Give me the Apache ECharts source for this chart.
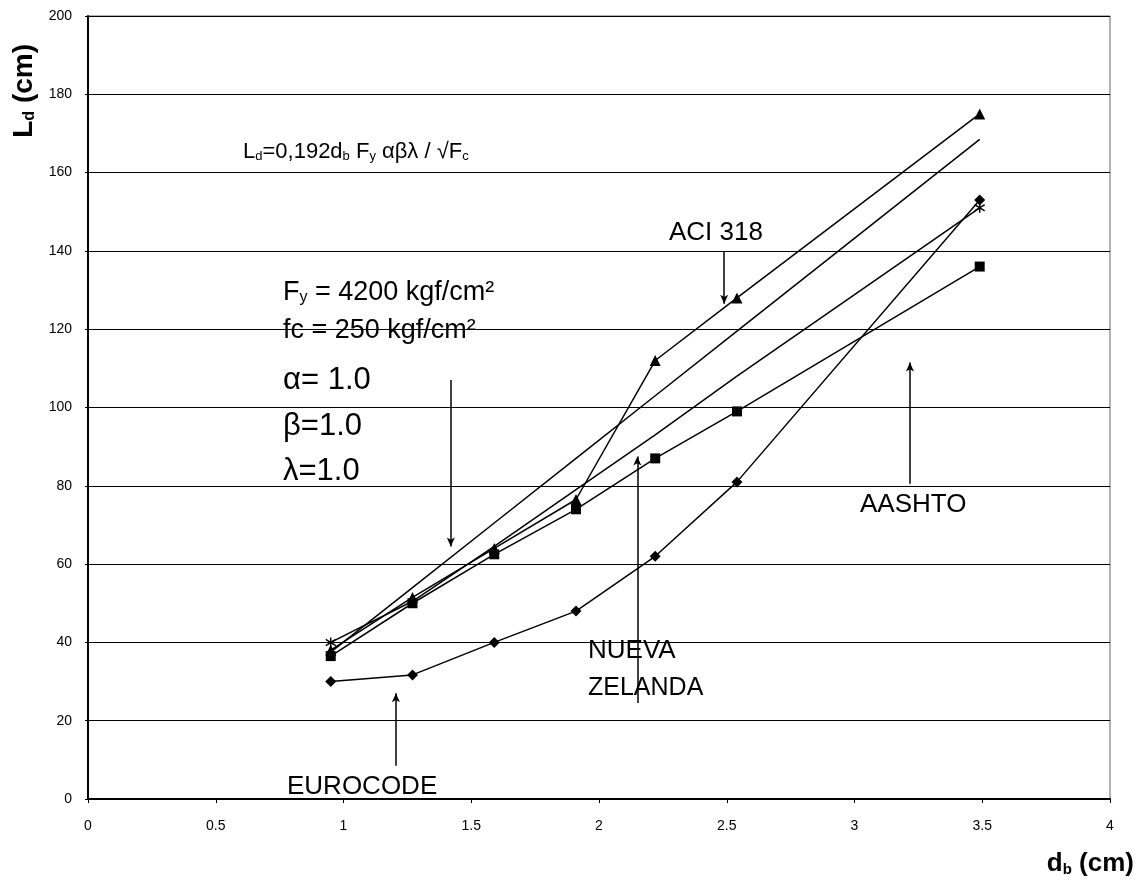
<!DOCTYPE html>
<html>
<head>
<meta charset="utf-8">
<script src="https://cdn.jsdelivr.net/npm/echarts@6/dist/echarts.min.js"></script>
<style>
html,body{margin:0;padding:0;background:#fff;}
#chart{width:1144px;height:892px;}
</style>
</head>
<body>
<div id="chart"></div>
<script>
// bar diameters (cm)
const db = [0.95, 1.27, 1.59, 1.91, 2.22, 2.54, 3.49];
// development length Ld (cm)
const aci318   = [38, 51.5, 64, 76.5, 112, 128, 175];
const aashto   = [36.5, 50, 62.5, 74, 87, 99, 136];
const nuevaZel = [40, 50.5, 64.5, 79, 93, 108, 151];
const eurocode = [30, 31.7, 40, 48, 62, 81, 153];
const formula  = [37.5, 54, 70.5, 87, 103, 119.5, 168.5];

const xTicks = { min: 0, max: 4, interval: 0.5 };
const yTicks = { min: 0, max: 200, interval: 20 };

// annotation arrows: [x, yStart, yEnd] in data units
const arrows = [
  [2.49, 140, 126.5],   // ACI 318
  [1.42, 107, 64.5],    // parameters
  [2.15, 24.5, 87.5],   // Nueva Zelanda
  [1.205, 8.5, 27],     // Eurocode
  [3.217, 80.5, 111.5]  // AASHTO
];

const pairs = ys => db.map((x, i) => [x, ys[i]]);
const FONT = '"Liberation Sans", Arial, sans-serif';
const xPath = 'path://M0,0L10,10M10,0L0,10M5,-3L5,13';

const baseLine = {
  type: 'line',
  lineStyle: { color: '#000', width: 1.5 },
  itemStyle: { color: '#000' },
  symbolSize: 9,
  z: 3
};

// Nueva Zelanda: markers visible only at the end points
const nzData = pairs(nuevaZel).map((p, i, arr) =>
  (i === 0 || i === arr.length - 1) ? { value: p } : { value: p, symbol: 'none' });

const chart = echarts.init(document.getElementById('chart'));
chart.setOption({
  animation: false,
  backgroundColor: '#fff',
  grid: { left: 88, right: 34, top: 16, bottom: 93, show: true, borderColor: '#666', borderWidth: 1 },
  xAxis: {
    type: 'value', min: xTicks.min, max: xTicks.max, interval: xTicks.interval,
    axisLine: { onZero: false, lineStyle: { color: '#000', width: 2 } },
    axisTick: { show: true, length: 4, lineStyle: { color: '#000' } },
    axisLabel: { color: '#000', fontSize: 14, fontFamily: FONT, margin: 20 },
    splitLine: { show: false }
  },
  yAxis: {
    type: 'value', min: yTicks.min, max: yTicks.max, interval: yTicks.interval,
    axisLine: { show: true, lineStyle: { color: '#000', width: 2 } },
    axisTick: { show: true, length: 3, lineStyle: { color: '#000' } },
    axisLabel: { color: '#000', fontSize: 14, fontFamily: FONT, margin: 16 },
    splitLine: { show: true, lineStyle: { color: '#000', width: 1 } }
  },
  series: [
    Object.assign({}, baseLine, { name: 'Formula', data: pairs(formula), showSymbol: false, symbol: 'none' }),
    Object.assign({}, baseLine, { name: 'ACI 318', data: pairs(aci318), symbol: 'triangle', symbolSize: 11 }),
    Object.assign({}, baseLine, { name: 'AASHTO', data: pairs(aashto), symbol: 'rect', symbolSize: 10 }),
    Object.assign({}, baseLine, { name: 'Nueva Zelanda', data: nzData, symbol: xPath, symbolSize: 10,
      itemStyle: { color: '#000', borderColor: '#000', borderWidth: 1.5 } }),
    Object.assign({}, baseLine, { name: 'Eurocode', data: pairs(eurocode), symbol: 'diamond', symbolSize: 11 }),
    {
      type: 'line', name: 'arrows', data: [], silent: true,
      markLine: {
        silent: true, animation: false,
        symbol: ['none', 'arrow'], symbolSize: [6, 9],
        lineStyle: { color: '#000', width: 1.5, type: 'solid' },
        label: { show: false },
        data: arrows.map(a => [{ coord: [a[0], a[1]] }, { coord: [a[0], a[2]] }])
      }
    }
  ],
  graphic: [
    { type: 'text', left: 10, top: 44, rotation: Math.PI / 2,
      style: { text: '{a|L}{s|d}{a| (cm)}', fill: '#000',
        rich: { a: { fontSize: 28, fontWeight: 'bold', fontFamily: FONT, verticalAlign: 'bottom', lineHeight: 31 },
                s: { fontSize: 16, fontWeight: 'bold', fontFamily: FONT, verticalAlign: 'bottom', lineHeight: 16 } } } },
    { type: 'text', right: 10, top: 851,
      style: { text: '{a|d}{s|b}{a| (cm)}', fill: '#000',
        rich: { a: { fontSize: 26, fontWeight: 'bold', fontFamily: FONT, verticalAlign: 'bottom', lineHeight: 29 },
                s: { fontSize: 15, fontWeight: 'bold', fontFamily: FONT, verticalAlign: 'bottom', lineHeight: 15 } } } },
    { type: 'text', left: 243, top: 141,
      style: { text: '{a|L}{s|d}{a|=0,192d}{s|b}{a| F}{s|y}{a| αβλ / √F}{s|c}', fill: '#000',
        rich: { a: { fontSize: 22, fontFamily: FONT, verticalAlign: 'bottom', lineHeight: 25 },
                s: { fontSize: 13, fontFamily: FONT, verticalAlign: 'bottom', lineHeight: 13 } } } },
    { type: 'text', left: 283, top: 279,
      style: { text: '{a|F}{s|y}{a| = 4200 kgf/cm²}', fill: '#000',
        rich: { a: { fontSize: 27, fontFamily: FONT, verticalAlign: 'bottom', lineHeight: 30 },
                s: { fontSize: 16, fontFamily: FONT, verticalAlign: 'bottom', lineHeight: 16 } } } },
    { type: 'text', left: 283, top: 317,
      style: { text: 'fc = 250 kgf/cm²', fill: '#000', font: '27px ' + FONT } },
    { type: 'text', left: 283, top: 365,
      style: { text: 'α= 1.0', fill: '#000', font: '31px ' + FONT } },
    { type: 'text', left: 283, top: 411,
      style: { text: 'β=1.0', fill: '#000', font: '31px ' + FONT } },
    { type: 'text', left: 283, top: 456,
      style: { text: 'λ=1.0', fill: '#000', font: '31px ' + FONT } },
    { type: 'text', left: 669, top: 220,
      style: { text: 'ACI 318', fill: '#000', font: '26px ' + FONT } },
    { type: 'text', left: 588, top: 638,
      style: { text: 'NUEVA', fill: '#000', font: '26px ' + FONT } },
    { type: 'text', left: 588, top: 676,
      style: { text: 'ZELANDA', fill: '#000', font: '25px ' + FONT } },
    { type: 'text', left: 287, top: 774,
      style: { text: 'EUROCODE', fill: '#000', font: '26px ' + FONT } },
    { type: 'text', left: 860, top: 492,
      style: { text: 'AASHTO', fill: '#000', font: '26px ' + FONT } }
  ]
});
</script>
</body>
</html>
